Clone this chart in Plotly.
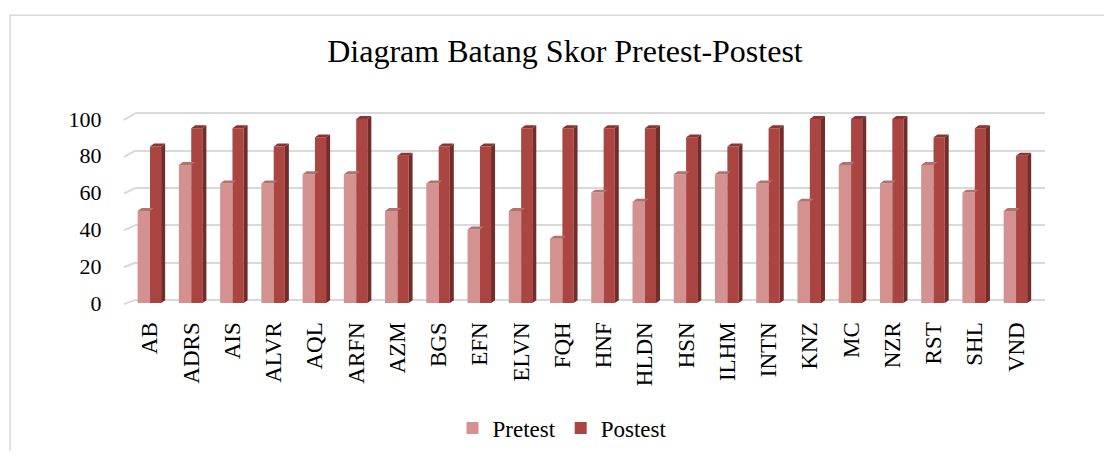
import plotly.graph_objects as go

# ---- data ----
categories = ["AB", "ADRS", "AIS", "ALVR", "AQL", "ARFN", "AZM", "BGS", "EFN", "ELVN", "FQH",
              "HNF", "HLDN", "HSN", "ILHM", "INTN", "KNZ", "MC", "NZR", "RST", "SHL", "VND"]
pretest = [50, 75, 65, 65, 70, 70, 50, 65, 40, 50, 35, 60, 55, 70, 70, 65, 55, 75, 65, 75, 60, 50]
postest = [85, 95, 95, 85, 90, 100, 80, 85, 85, 95, 95, 95, 95, 90, 85, 95, 100, 100, 100, 90, 95, 80]
y_ticks = [0, 20, 40, 60, 80, 100]

# ---- style ----
FONT = "Liberation Serif"
PRE_FACE, PRE_CAP = "#D39290", "#B47170"
POST_FACE, POST_SIDE, POST_CAP = "#AA4542", "#742C2A", "#8A3533"
GRID = "#D9D9D9"
PAGE_OFF = 8      # default page body margin
V_SCALE = 0.971   # observed vertical scale of the captured page
W, H = 1112 - 2 * PAGE_OFF, 459 - 2 * PAGE_OFF

PRE_OFF, PRE_W = -0.30, 0.30
POST_OFF, POST_W = 0.0, 0.27
DX, DY = 0.097, 1.6  # depth offsets (x units, y units)

xs = list(range(len(categories)))

def caps(vals, off, w):
    px, py = [], []
    for i, v in zip(xs, vals):
        x0, x1 = i + off, i + off + w
        px += [x0, x1, x1 + DX, x0 + DX, x0, None]
        py += [v, v, v + DY, v + DY, v, None]
    return px, py

def sides(vals, off, w):
    px, py = [], []
    for i, v in zip(xs, vals):
        x0 = i + off + w
        px += [x0, x0 + DX, x0 + DX, x0, x0, None]
        py += [0, DY, v + DY, v, 0, None]
    return px, py

fig = go.Figure()

# grid-only subplot (back wall): xaxis / yaxis
fig.add_trace(go.Scatter(x=[0], y=[0], mode="markers", marker=dict(opacity=0),
                         showlegend=False, hoverinfo="skip", xaxis="x", yaxis="y"))

# bars subplot: xaxis2 / yaxis2
cx, cy = caps(pretest, PRE_OFF, PRE_W)
fig.add_trace(go.Scatter(x=cx, y=cy, fill="toself", mode="lines", line=dict(width=0),
                         fillcolor=PRE_CAP, showlegend=False, hoverinfo="skip",
                         xaxis="x2", yaxis="y2"))
fig.add_trace(go.Bar(x=xs, y=pretest, name="Pretest", marker=dict(color=PRE_FACE, line=dict(width=0)),
                     offset=PRE_OFF, width=PRE_W, xaxis="x2", yaxis="y2"))
sx, sy = sides(postest, POST_OFF, POST_W)
fig.add_trace(go.Scatter(x=sx, y=sy, fill="toself", mode="lines", line=dict(width=0),
                         fillcolor=POST_SIDE, showlegend=False, hoverinfo="skip",
                         xaxis="x2", yaxis="y2"))
cx, cy = caps(postest, POST_OFF, POST_W)
fig.add_trace(go.Scatter(x=cx, y=cy, fill="toself", mode="lines", line=dict(width=0),
                         fillcolor=POST_CAP, showlegend=False, hoverinfo="skip",
                         xaxis="x2", yaxis="y2"))
fig.add_trace(go.Bar(x=xs, y=postest, name="Postest", marker=dict(color=POST_FACE, line=dict(width=0)),
                     offset=POST_OFF, width=POST_W, xaxis="x2", yaxis="y2"))

# pixel geometry helpers (screen pixels -> paper fractions)
def fy(px_y):
    return (H - (px_y / V_SCALE - PAGE_OFF)) / H

def fx(px_x):
    return (px_x - PAGE_OFF) / W

# back-wall mapping: value 0 -> 299px, 100 -> 111px ; front mapping: 0 -> 302px, 100 -> 117px
back_slope = (299 - 111) / 100
front_slope = (302 - 116.5) / 100

shapes = []
for t in y_ticks:
    shapes.append(dict(type="line", xref="paper", yref="paper",
                       x0=fx(124), y0=fy(302 - front_slope * t + 1),
                       x1=fx(135), y1=fy(299 - back_slope * t),
                       line=dict(color=GRID, width=2), layer="below"))
# chart border
shapes.append(dict(type="rect", xref="paper", yref="paper",
                   x0=fx(10), y0=-0.1, x1=1.1, y1=fy(12),
                   line=dict(color="#D9D9D9", width=1.5), fillcolor="rgba(0,0,0,0)"))

y_back_lo, y_back_hi = -1, 101
fig.update_layout(
    width=W, height=H,
    margin=dict(l=0, r=0, t=0, b=0),
    paper_bgcolor="white", plot_bgcolor="rgba(0,0,0,0)",
    font=dict(family=FONT, color="black", size=22),
    barmode="overlay",
    title=dict(text="Diagram Batang Skor Pretest-Postest", x=fx(565), xanchor="center",
               y=fy(49), yanchor="middle", font=dict(family=FONT, size=32, color="black")),
    xaxis=dict(domain=[fx(135), fx(1045)], range=[0, 1], showgrid=False, zeroline=False,
               showticklabels=False, ticks="", showline=False, anchor="y"),
    yaxis=dict(domain=[fy(299 - back_slope * y_back_lo), fy(299 - back_slope * y_back_hi)],
               range=[y_back_lo, y_back_hi], tickvals=y_ticks, showticklabels=False,
               showgrid=True, gridcolor=GRID, gridwidth=2, zeroline=False, ticks="",
               showline=False, anchor="x"),
    xaxis2=dict(domain=[fx(125), fx(1040)], range=[(125 - 150) / 41.24, (1040 - 150) / 41.24],
                tickmode="array", tickvals=xs, ticktext=categories, tickangle=-90,
                showgrid=False, zeroline=False, showline=False,
                ticks="outside", ticklen=9, tickcolor="rgba(0,0,0,0)",
                tickfont=dict(family=FONT, size=23), anchor="y2"),
    yaxis2=dict(domain=[fy(302), fy(302 - front_slope * 105)], range=[0, 105],
                tickvals=y_ticks, showgrid=False, zeroline=False, showline=False,
                ticks="outside", ticklen=18, tickcolor="rgba(0,0,0,0)",
                tickfont=dict(family=FONT, size=22), anchor="x2"),
    legend=dict(orientation="h", x=fx(562), xanchor="center", y=fy(428), yanchor="middle",
                font=dict(family=FONT, size=23), bgcolor="rgba(0,0,0,0)", itemwidth=30),
    shapes=shapes,
    showlegend=True,
)

fig.write_html("out.html")
